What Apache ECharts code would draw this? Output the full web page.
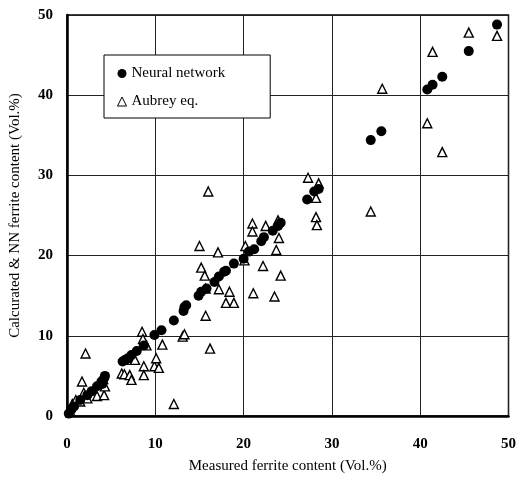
<!DOCTYPE html>
<html><head><meta charset="utf-8">
<script src="https://cdn.jsdelivr.net/npm/echarts@6/dist/echarts.min.js"></script>
<style>html,body{margin:0;padding:0;background:#fff}#c{width:519px;height:479px}</style>
</head><body><div id="c"></div>
<script>
const xTicks = [0, 10, 20, 30, 40, 50];
const yTicks = [0, 10, 20, 30, 40, 50];
const nnLabel = 'Neural network';
const aubreyLabel = 'Aubrey eq.';
const xTitle = 'Measured ferrite content (Vol.%)';
const yTitle = 'Calcurated & NN ferrite content (Vol.%)';

const nnMeasured = [0.2,0.5,0.8,1.5,2.3,2.8,3.4,3.9,4.2,4.3,4.0,6.3,6.6,6.9,7.3,7.9,8.7,9.9,10.7,12.1,13.2,13.3,13.5,14.9,15.2,15.8,16.7,17.2,17.8,18.0,18.9,20.0,20.6,21.2,22.0,22.3,23.3,23.9,24.2,27.2,28.0,28.5,34.4,35.6,40.8,41.4,42.5,45.5,48.7];
const nnValue    = [0.3,0.8,1.2,2.0,2.6,3.1,3.7,4.3,4.7,5.0,4.0,6.8,7.0,7.2,7.6,8.1,8.8,10.1,10.7,11.9,13.1,13.6,13.8,15.0,15.5,15.9,16.7,17.4,18.0,18.1,19.0,19.6,20.5,20.8,21.8,22.3,23.1,23.7,24.1,27.0,28.0,28.3,34.4,35.5,40.7,41.3,42.3,45.5,48.8];

const auMeasured = [0.3,0.6,1.0,1.5,1.7,1.9,2.1,2.3,3.0,3.4,3.9,4.2,4.3,4.1,
  6.2,6.5,6.8,7.1,7.3,7.7,8.5,8.6,8.7,8.7,9.0,9.9,10.1,10.4,10.8,12.1,13.1,13.3,15.7,16.2,
  15.0,15.2,15.6,15.7,16.0,17.1,17.2,18.0,18.4,18.9,20.1,20.2,21.0,21.0,21.1,22.2,22.5,23.5,23.7,23.9,24.0,24.2,27.3,28.2,28.2,28.3,28.5,
  34.4,35.7,40.8,41.4,42.5,45.5,48.7];
const auValue = [0.8,1.5,2.0,1.8,4.3,2.9,7.8,2.2,3.2,2.5,4.3,2.6,3.7,4.6,
  5.3,5.2,7.0,5.1,4.5,7.0,10.5,9.6,6.2,5.1,8.8,6.2,7.2,6.0,8.9,1.5,9.9,10.2,12.5,8.4,
  21.2,18.5,17.5,15.9,28.0,20.4,15.8,14.1,15.5,14.1,19.4,21.2,24.0,23.0,15.3,18.7,23.7,14.9,20.7,24.4,22.2,17.5,29.7,27.2,24.8,23.8,29.0,
  25.5,40.8,36.5,45.4,32.9,47.8,47.4];

const zip = (a, b) => a.map((v, i) => [v, b[i]]);
const font = '"Liberation Serif", "DejaVu Serif", serif';

const chart = echarts.init(document.getElementById('c'), null, {renderer: 'canvas'});
chart.setOption({
  animation: false,
  backgroundColor: '#fff',
  grid: {left: 65, right: 10, top: 15, bottom: 61, show: true, borderColor: '#000', borderWidth: 1.5},
  legend: {
    orient: 'vertical', left: 104, top: 55,
    backgroundColor: '#fff', borderColor: '#000', borderWidth: 1,
    padding: [11, 45, 9, 13], itemGap: 13, itemWidth: 9, itemHeight: 9,
    textStyle: {fontFamily: font, fontSize: 15, color: '#000'},
    data: [{name: nnLabel}, {name: aubreyLabel, itemStyle: {borderWidth: 1}}]
  },
  xAxis: {
    type: 'value', min: xTicks[0], max: xTicks[xTicks.length - 1], interval: 10,
    name: xTitle, nameLocation: 'middle', nameGap: 43,
    nameTextStyle: {fontFamily: font, fontSize: 15, color: '#000'},
    axisLine: {show: true, lineStyle: {color: '#000', width: 2.5}},
    axisTick: {show: false},
    axisLabel: {fontFamily: font, fontSize: 15, fontWeight: 'bold', color: '#000', margin: 21},
    splitLine: {show: true, lineStyle: {color: '#222', width: 1}}
  },
  yAxis: {
    type: 'value', min: yTicks[0], max: yTicks[yTicks.length - 1], interval: 10,
    name: yTitle, nameLocation: 'middle', nameGap: 44, nameRotate: 90,
    nameTextStyle: {fontFamily: font, fontSize: 15, color: '#000'},
    axisLine: {show: true, lineStyle: {color: '#000', width: 2.5}},
    axisTick: {show: false},
    axisLabel: {fontFamily: font, fontSize: 15, fontWeight: 'bold', color: '#000', margin: 14},
    splitLine: {show: true, lineStyle: {color: '#222', width: 1}}
  },
  series: [
    {
      name: aubreyLabel, type: 'scatter', symbol: 'triangle', symbolSize: 9,
      itemStyle: {color: '#fff', borderColor: '#000', borderWidth: 1.4, opacity: 1},
      data: zip(auMeasured, auValue), z: 3
    },
    {
      name: nnLabel, type: 'scatter', symbol: 'circle', symbolSize: 10,
      itemStyle: {color: '#000', opacity: 1},
      data: zip(nnMeasured, nnValue), z: 4
    }
  ]
});
</script></body></html>
